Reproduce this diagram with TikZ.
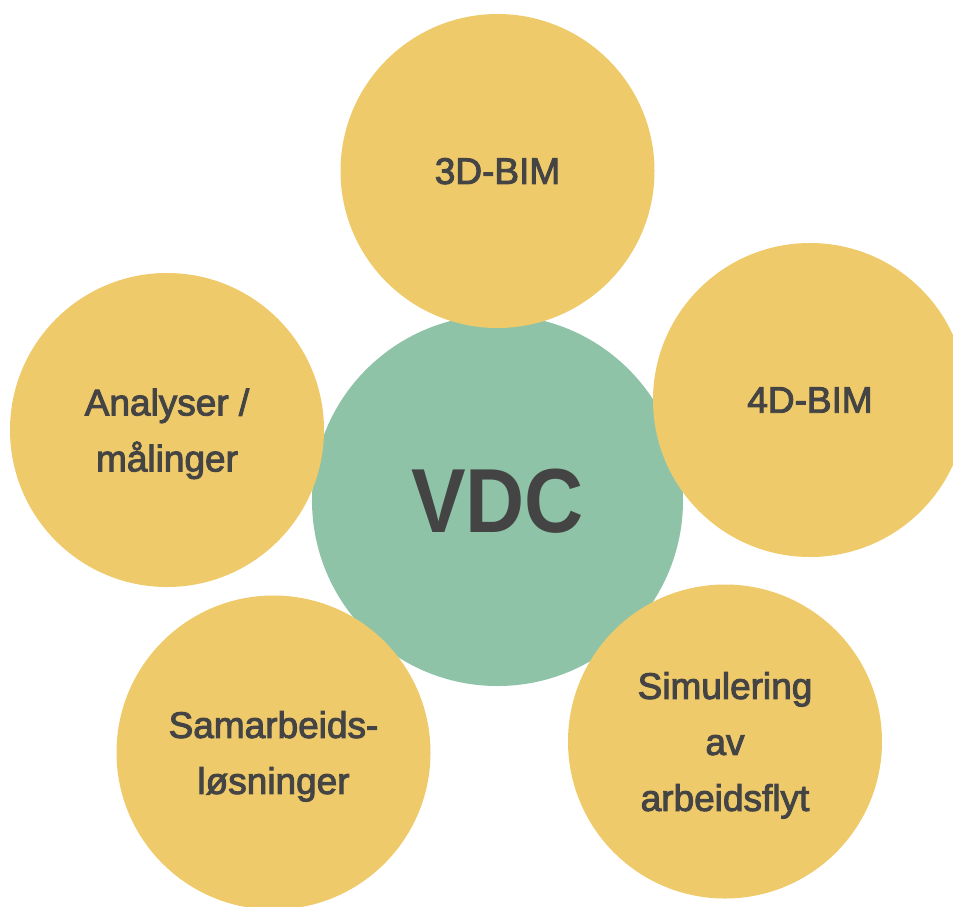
\documentclass[tikz,border=0pt]{standalone}
\usepackage{fontspec}
\setmainfont{Liberation Sans}
\newfontfamily\labelfont[FakeBold=2.6]{Liberation Sans}
\newfontfamily\hubfont[FakeStretch=0.9]{Liberation Sans Bold}
\definecolor{petal}{RGB}{238,202,106}
\definecolor{hub}{RGB}{143,195,168}
\definecolor{ink}{RGB}{68,68,68}
\tikzset{
  petalnode/.style={circle, fill=petal, draw=none, minimum size=314pt, inner sep=0pt,
    text=ink, align=center, text depth=0pt,
    font=\labelfont\fontsize{37}{56}\selectfont},
  hubnode/.style={circle, fill=hub, draw=none, minimum size=371pt, inner sep=0pt,
    text=ink, text depth=0pt, font=\hubfont\fontsize{91}{100}\selectfont},
}
\begin{document}
\begin{tikzpicture}[x=1pt, y=-1pt]
  \useasboundingbox (0,0) rectangle (953,906);
  \clip (0,0) rectangle (953,906);
  % central hub
  \node[hubnode] (vdc) at (497.5,500.5) {VDC};
  % surrounding topics
  \node[petalnode] (bim3) at (497.5,171) {3D-BIM};
  \node[petalnode] (bim4) at (810,400) {4D-BIM};
  \node[petalnode] (analyse) at (167,430) {Analyser /\\målinger};
  \node[petalnode] (samarbeid) at (273.5,752.5) {Samarbeids-\\løsninger};
  \node[petalnode] (simulering) at (725,741.5) {Simulering\\av\\arbeidsflyt};
\end{tikzpicture}
\end{document}
